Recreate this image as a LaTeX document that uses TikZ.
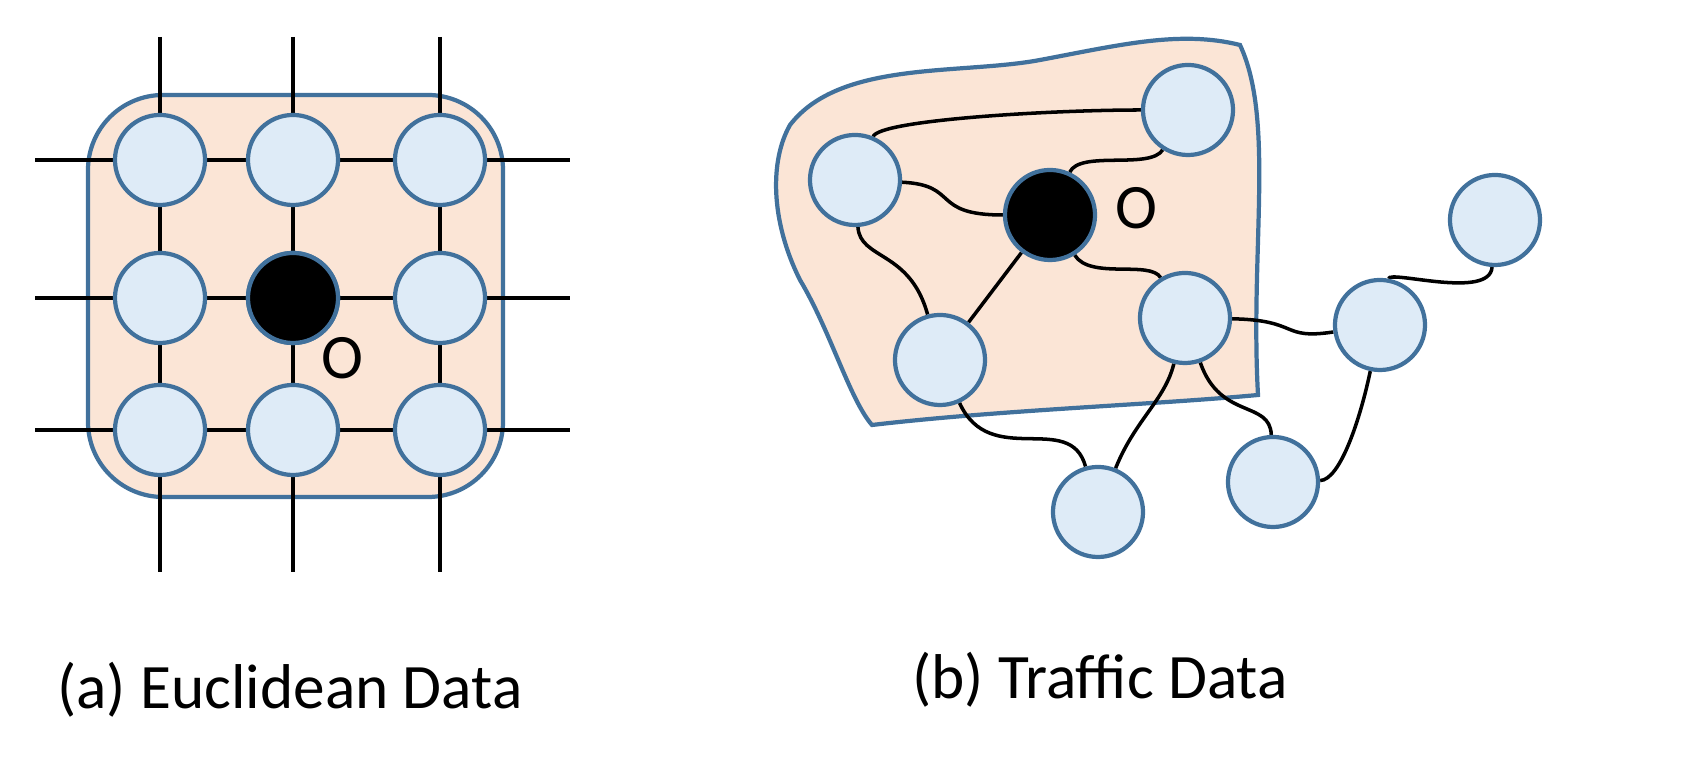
\documentclass[tikz,border=0pt]{standalone}
\usepackage{fontspec}
\setmainfont{Carlito}
\usetikzlibrary{backgrounds}
\definecolor{nodefill}{RGB}{222,235,247}
\definecolor{nodeline}{RGB}{65,113,156}
\definecolor{regionfill}{RGB}{251,229,214}
\tikzset{
  vert/.style={circle, draw=nodeline, line width=1.2pt, fill=nodefill, minimum size=0.9cm, inner sep=0pt},
  center/.style={vert, fill=black},
  link/.style={black, line width=1pt},
  region/.style={nodeline, fill=regionfill, line width=1.2pt},
  caption/.style={font=\fontsize{18}{20}\selectfont}
}
\begin{document}
\begin{tikzpicture}[x=0.01cm,y=-0.01cm]
	\useasboundingbox (0,0) rectangle (1702,771);
	%Euclidean grid
	\foreach \x/\i in {160/1,293/2,440/3}{
		\foreach \y/\j in {160/1,298/2,430/3}{
			\node[vert] (g\i\j) at (\x,\y) {};
		}
	}
	\node[center] at (g22) {};
	\foreach \x/\n in {160/1,293/2,440/3}{
		\coordinate (vt\n) at (\x,37); \coordinate (vb\n) at (\x,572);
	}
	\foreach \y/\n in {160/1,298/2,430/3}{
		\coordinate (hl\n) at (35,\y); \coordinate (hr\n) at (570,\y);
	}
	\begin{pgfonlayer}{background}
		\draw[region, rounded corners=0.75cm] (88,95) rectangle (503,497);
		\foreach \n in {1,2,3}{
			\draw[link] (vt\n) -- (vb\n);
			\draw[link] (hl\n) -- (hr\n);
		}
	\end{pgfonlayer}
	\node[caption] (lo) at (342,358) {O};
	\node[caption] (capa) at (290,690) {(a) Euclidean Data};

	%Traffic graph
	\node[vert] (a) at (855,180) {};
	\node[vert] (b) at (1188,110) {};
	\node[center] (o) at (1050,215) {};
	\node[vert] (c) at (940,360) {};
	\node[vert] (d) at (1185,318) {};
	\node[vert] (e) at (1380,325) {};
	\node[vert] (f) at (1495,220) {};
	\node[vert] (g) at (1098,512) {};
	\node[vert] (h) at (1273,482) {};
	\node[caption] (lo2) at (1136,208) {O};
	\begin{pgfonlayer}{background}
		\draw[region] (790,125) .. controls (840,60) and (960,75) .. (1040,60)
			.. controls (1120,45) and (1180,30) .. (1240,45)
			.. controls (1275,120) and (1250,250) .. (1258,395)
			.. controls (1150,405) and (1000,410) .. (872,425)
			.. controls (850,400) and (830,330) .. (800,280)
			.. controls (770,220) and (770,160) .. cycle;
		\draw[link] (a) .. controls (880,120) and (1050,110) .. (b);
		\draw[link] (a) .. controls (960,185) and (930,215) .. (o);
		\draw[link] (b) .. controls (1150,170) and (1080,150) .. (o);
		\draw[link] (a) .. controls (860,260) and (910,250) .. (c);
		\draw[link] (o) -- (c);
		\draw[link] (o) .. controls (1090,280) and (1150,260) .. (d);
		\draw[link] (d) .. controls (1300,320) and (1280,340) .. (e);
		\draw[link] (e) .. controls (1390,270) and (1490,300) .. (f);
		\draw[link] (c) .. controls (990,470) and (1070,410) .. (g);
		\draw[link] (d) .. controls (1165,400) and (1135,420) .. (g);
		\draw[link] (d) .. controls (1220,420) and (1270,400) .. (h);
		\draw[link] (e) .. controls (1360,420) and (1340,480) .. (h);
	\end{pgfonlayer}
	\node[caption] (capb) at (1100,680) {(b) Traffic Data};
\end{tikzpicture}
\end{document}
